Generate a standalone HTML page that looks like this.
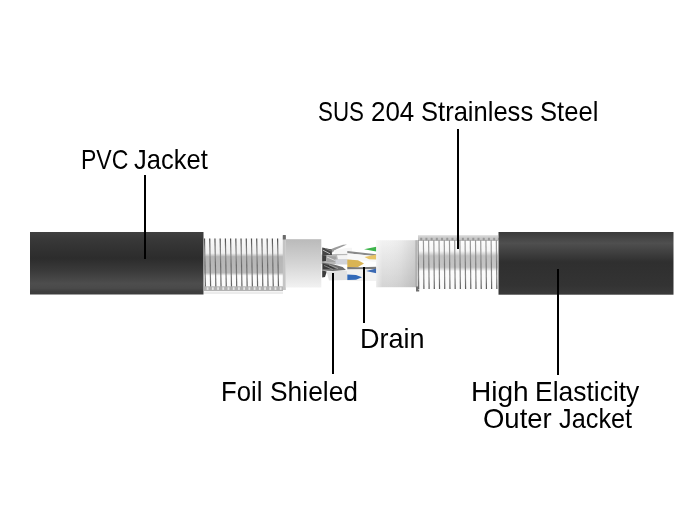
<!DOCTYPE html>
<html><head><meta charset="utf-8">
<style>
html,body{margin:0;padding:0;background:#fff;}
body{width:700px;height:530px;position:relative;overflow:hidden;font-family:"Liberation Sans",sans-serif;color:#000;}
.t{position:absolute;font-size:28px;line-height:28px;white-space:nowrap;transform-origin:0 0;}
.ln{position:absolute;background:#000;width:2px;}
svg{position:absolute;left:0;top:0;}
</style></head><body>
<svg width="700" height="530" viewBox="0 0 700 530">
<defs>
<linearGradient id="jl" x1="0" y1="0" x2="0" y2="1">
<stop offset="0" stop-color="#404040"/>
<stop offset="0.12" stop-color="#383838"/>
<stop offset="0.42" stop-color="#2c2c2c"/>
<stop offset="0.62" stop-color="#3a3a3a"/>
<stop offset="0.82" stop-color="#4d4d4d"/>
<stop offset="0.9" stop-color="#4a4a4a"/>
<stop offset="0.95" stop-color="#3e3e3e"/>
<stop offset="1" stop-color="#3c3c3c"/>
</linearGradient>
<linearGradient id="jr" x1="0" y1="0" x2="0" y2="1">
<stop offset="0" stop-color="#3a3a3a"/>
<stop offset="0.18" stop-color="#4f4f4f"/>
<stop offset="0.48" stop-color="#2f2f2f"/>
<stop offset="0.85" stop-color="#333"/>
<stop offset="1" stop-color="#3a3a3a"/>
</linearGradient>
<linearGradient id="fl" x1="0" y1="0" x2="0" y2="1">
<stop offset="0" stop-color="#bababa"/>
<stop offset="0.5" stop-color="#d4d4d4"/>
<stop offset="1" stop-color="#f2f2f2"/>
</linearGradient>
<linearGradient id="fr" x1="0" y1="0" x2="0" y2="1">
<stop offset="0" stop-color="#f2f2f2"/>
<stop offset="1" stop-color="#d4d4d4"/>
</linearGradient>
<linearGradient id="frh" x1="0" y1="0" x2="1" y2="0">
<stop offset="0" stop-color="#fff" stop-opacity="0.5"/>
<stop offset="0.15" stop-color="#fff" stop-opacity="0"/>
<stop offset="0.6" stop-color="#000" stop-opacity="0.03"/>
<stop offset="1" stop-color="#000" stop-opacity="0.12"/>
</linearGradient>
<linearGradient id="bandL" gradientUnits="userSpaceOnUse" x1="0" y1="238.5" x2="0" y2="287.5">
<stop offset="0" stop-color="#fafafa"/>
<stop offset="0.3" stop-color="#f0f0f0"/>
<stop offset="0.37" stop-color="#b6b6b6"/>
<stop offset="0.7" stop-color="#bababa"/>
<stop offset="0.76" stop-color="#fcfcfc"/>
<stop offset="1" stop-color="#fafafa"/>
</linearGradient>
<linearGradient id="bandR" gradientUnits="userSpaceOnUse" x1="0" y1="240" x2="0" y2="289.5">
<stop offset="0" stop-color="#fdfdfd"/>
<stop offset="0.22" stop-color="#f6f6f6"/>
<stop offset="0.32" stop-color="#c2c2c2"/>
<stop offset="0.55" stop-color="#c4c4c4"/>
<stop offset="0.63" stop-color="#fcfcfc"/>
<stop offset="1" stop-color="#fafafa"/>
</linearGradient>
<linearGradient id="lgL" gradientUnits="userSpaceOnUse" x1="0" y1="238" x2="0" y2="288">
<stop offset="0" stop-color="#4a4a4a"/>
<stop offset="0.2" stop-color="#7a7a7a"/>
<stop offset="0.35" stop-color="#8a8a8a"/>
<stop offset="0.55" stop-color="#6a6a6a"/>
<stop offset="0.75" stop-color="#7c7c7c"/>
<stop offset="1" stop-color="#5a5a5a"/>
</linearGradient>
<linearGradient id="lgR" gradientUnits="userSpaceOnUse" x1="0" y1="240" x2="0" y2="289">
<stop offset="0" stop-color="#9a9a9a"/>
<stop offset="0.25" stop-color="#999"/>
<stop offset="0.5" stop-color="#7a7a7a"/>
<stop offset="0.75" stop-color="#8a8a8a"/>
<stop offset="1" stop-color="#5a5a5a"/>
</linearGradient>
<linearGradient id="dotR" x1="0" y1="0" x2="0" y2="1">
<stop offset="0" stop-color="#dadada"/>
<stop offset="1" stop-color="#b8b8b8"/>
</linearGradient>
<filter id="cblur" x="-5%" y="-5%" width="110%" height="110%"><feGaussianBlur stdDeviation="0.3"/></filter>
<filter id="wblur" x="-10%" y="-10%" width="120%" height="120%"><feGaussianBlur stdDeviation="0.45"/></filter>
</defs>
<!-- left jacket -->
<rect x="30" y="232" width="173.5" height="62.5" fill="url(#jl)"/>
<!-- left coil -->
<rect x="204" y="238.5" width="79" height="49" fill="url(#bandL)"/>
<g id="coilL" stroke="url(#lgL)" stroke-width="1.2" fill="none" filter="url(#cblur)"><path d="M204.50 238.5 L205.40 287"/><path d="M209.72 238.5 L210.62 287"/><path d="M214.94 238.5 L215.84 287"/><path d="M220.16 238.5 L221.06 287"/><path d="M225.38 238.5 L226.28 287"/><path d="M230.60 238.5 L231.50 287"/><path d="M235.82 238.5 L236.72 287"/><path d="M241.04 238.5 L241.94 287"/><path d="M246.26 238.5 L247.16 287"/><path d="M251.48 238.5 L252.38 287"/><path d="M256.70 238.5 L257.60 287"/><path d="M261.92 238.5 L262.82 287"/><path d="M267.14 238.5 L268.04 287"/><path d="M272.36 238.5 L273.26 287"/><path d="M277.58 238.5 L278.48 287"/></g>
<rect x="204" y="286.3" width="79" height="4.7" fill="#b2b2b2"/>
<rect x="204" y="291.5" width="79" height="2.5" fill="#ececec"/>
<g id="dotsL" fill="#e6e6e6"><rect x="206.70" y="287.3" width="1.8" height="2.6"/><rect x="211.92" y="287.3" width="1.8" height="2.6"/><rect x="217.14" y="287.3" width="1.8" height="2.6"/><rect x="222.36" y="287.3" width="1.8" height="2.6"/><rect x="227.58" y="287.3" width="1.8" height="2.6"/><rect x="232.80" y="287.3" width="1.8" height="2.6"/><rect x="238.02" y="287.3" width="1.8" height="2.6"/><rect x="243.24" y="287.3" width="1.8" height="2.6"/><rect x="248.46" y="287.3" width="1.8" height="2.6"/><rect x="253.68" y="287.3" width="1.8" height="2.6"/><rect x="258.90" y="287.3" width="1.8" height="2.6"/><rect x="264.12" y="287.3" width="1.8" height="2.6"/><rect x="269.34" y="287.3" width="1.8" height="2.6"/><rect x="274.56" y="287.3" width="1.8" height="2.6"/><rect x="279.78" y="287.3" width="1.8" height="2.6"/></g>
<!-- left foil -->
<rect x="282.8" y="236" width="3" height="54" fill="#c4c4c4"/>
<rect x="282.8" y="235" width="3" height="4.5" fill="#6a6a6a"/>
<rect x="285.8" y="239.2" width="35.5" height="48.3" fill="url(#fl)"/>
<!-- wires -->
<g id="wires" filter="url(#wblur)">
<polygon points="321.5,254.4 352,253.5 352,264 321.5,264" fill="#b8b8b8"/>
<polygon points="329,255 336,249.5 347,244.6 343,244.8 335,247.5 329,250" fill="#9c9c9c"/>
<polygon points="322.2,247.5 331.5,249.5 332,255 322.2,255" fill="#454545"/>
<polyline points="323,250.2 330,253.8" stroke="#d0d0d0" stroke-width="0.8" fill="none"/>
<polyline points="325,248.3 331,251" stroke="#9a9a9a" stroke-width="0.6" fill="none"/>
<polygon points="334,250.2 348,247.8 352,247.8 352,253.5 335,254" fill="#f6f6f6"/>
<polygon points="322.2,255 326.5,255.5 326,261 322.2,261.5" fill="#3c3c3c"/>
<polygon points="326.5,256 336,256.5 337,262 326.5,262" fill="#a2a2a2"/>
<polyline points="327,257 335,260.5" stroke="#e6e6e6" stroke-width="0.8" fill="none"/>
<polygon points="337,255.2 352,255 352,259.5 338,259.5" fill="#f4f4f4"/>
<polygon points="335,259.5 352,259.3 352,264.5 336,264.6" fill="#d2d4da"/>
<polygon points="322.2,262.5 334,264.5 342.6,267 346,270 333,271 322.2,270.5" fill="#6e6e6e"/>
<polygon points="322.8,263.5 330,265.5 336,268.8 322.8,269" fill="#3a3a3a"/>
<polyline points="324,265.5 333,269.5" stroke="#a8a8a8" stroke-width="0.7" fill="none"/>
<polyline points="329,264.8 338,268.5" stroke="#bdbdbd" stroke-width="0.6" fill="none"/>
<polygon points="322.2,270.5 326.8,271.5 325,277 322.2,277.5" fill="#3a3a3a"/>
<polygon points="326.5,271.5 347.5,270.5 347.5,280 329,280.5" fill="#e2e2e2"/>
<polygon points="347.3,251 376.3,254.3 376.3,256.3 347.3,253.2" fill="#8a8a8a"/>
<polygon points="347.3,253.2 376.3,256.3 376.3,262 347.3,259.5" fill="#f8f8f8"/>
<polygon points="364,249.2 376.3,246.8 376.3,251.6" fill="#3cb44b"/>
<polygon points="364.5,257 376.3,254.6 376.3,259.4 369,259.3" fill="#e8c465"/>
<polygon points="347.3,259.5 358,260.3 364,263.5 358,267 347.3,267.5" fill="#d9b455"/>
<polygon points="347.3,267 360,267.2 376.3,266.8 376.3,269.2 347.3,269.5" fill="#7a7a7a"/>
<polygon points="347.3,269.5 376.3,269.2 376.3,281 347.3,281" fill="#f2f2f2"/>
<polygon points="366,271 376.3,268.6 376.3,273.3" fill="#3a69b3"/>
<polygon points="347.3,274.5 356,275 362,277.3 356,279.8 347.3,280" fill="#3169b8"/>
</g>
<!-- right foil -->
<rect x="376.3" y="240.2" width="41" height="47" fill="url(#fr)"/>
<rect x="376.3" y="240.2" width="41" height="47" fill="url(#frh)"/>
<rect x="415.3" y="240.2" width="2.2" height="47" fill="#a8a8a8" opacity="0.7"/>
<rect x="416" y="286.5" width="3.2" height="5" fill="#707070"/>
<!-- right coil -->
<rect x="418" y="240" width="80" height="49.5" fill="url(#bandR)"/>
<rect x="418" y="235.2" width="80" height="5.8" fill="url(#dotR)"/>
<g id="dotsR" fill="#8e8e8e" opacity="0.8"><rect x="420.20" y="237.8" width="2" height="2.6"/><rect x="425.41" y="237.8" width="2" height="2.6"/><rect x="430.62" y="237.8" width="2" height="2.6"/><rect x="435.83" y="237.8" width="2" height="2.6"/><rect x="441.04" y="237.8" width="2" height="2.6"/><rect x="446.25" y="237.8" width="2" height="2.6"/><rect x="451.46" y="237.8" width="2" height="2.6"/><rect x="456.67" y="237.8" width="2" height="2.6"/><rect x="461.88" y="237.8" width="2" height="2.6"/><rect x="467.09" y="237.8" width="2" height="2.6"/><rect x="472.30" y="237.8" width="2" height="2.6"/><rect x="477.51" y="237.8" width="2" height="2.6"/><rect x="482.72" y="237.8" width="2" height="2.6"/><rect x="487.93" y="237.8" width="2" height="2.6"/><rect x="493.14" y="237.8" width="2" height="2.6"/><rect x="498.35" y="237.8" width="2" height="2.6"/></g>
<g id="coilR" stroke="url(#lgR)" stroke-width="1.2" fill="none" filter="url(#cblur)"><path d="M418.20 240 L418.70 289"/><path d="M423.41 240 L423.91 289"/><path d="M428.62 240 L429.12 289"/><path d="M433.83 240 L434.33 289"/><path d="M439.04 240 L439.54 289"/><path d="M444.25 240 L444.75 289"/><path d="M449.46 240 L449.96 289"/><path d="M454.67 240 L455.17 289"/><path d="M459.88 240 L460.38 289"/><path d="M465.09 240 L465.59 289"/><path d="M470.30 240 L470.80 289"/><path d="M475.51 240 L476.01 289"/><path d="M480.72 240 L481.22 289"/><path d="M485.93 240 L486.43 289"/><path d="M491.14 240 L491.64 289"/><path d="M496.35 240 L496.85 289"/></g>
<!-- right jacket -->
<rect x="498.5" y="232" width="175" height="62.7" fill="url(#jr)"/>
</svg>

<div class="ln" style="left:143.6px;top:175px;height:83.6px"></div>
<div class="ln" style="left:456.9px;top:129px;height:119.7px"></div>
<div class="ln" style="left:332.2px;top:273px;height:100.8px"></div>
<div class="ln" style="left:363.2px;top:267px;height:55.6px"></div>
<div class="ln" style="left:556.9px;top:268.7px;height:106.2px"></div>

<div class="t" style="left:80.93px;top:145.52px;transform:scaleX(0.8225)">PVC</div>
<div class="t" style="left:134.37px;top:145.50px;transform:scaleX(0.9113)">Jacket</div>
<div class="t" style="left:317.89px;top:97.50px;transform:scaleX(0.7971)">SUS</div>
<div class="t" style="left:371.28px;top:97.50px;transform:scaleX(0.9271)">204</div>
<div class="t" style="left:420.90px;top:97.50px;transform:scaleX(0.9124)">Strainless</div>
<div class="t" style="left:540.20px;top:97.50px;transform:scaleX(0.9138)">Steel</div>
<div class="t" style="left:360.04px;top:324.80px;transform:scaleX(0.9649)">Drain</div>
<div class="t" style="left:220.75px;top:377.60px;transform:scaleX(0.9163)">Foil</div>
<div class="t" style="left:269.74px;top:377.80px;transform:scaleX(0.9421)">Shieled</div>
<div class="t" style="left:470.91px;top:378.20px;transform:scaleX(1.0016)">High</div>
<div class="t" style="left:534.80px;top:378.20px;transform:scaleX(0.9443)">Elasticity</div>
<div class="t" style="left:483.27px;top:405.00px;transform:scaleX(0.9814)">Outer</div>
<div class="t" style="left:558.78px;top:405.00px;transform:scaleX(0.9038)">Jacket</div>
</body></html>
